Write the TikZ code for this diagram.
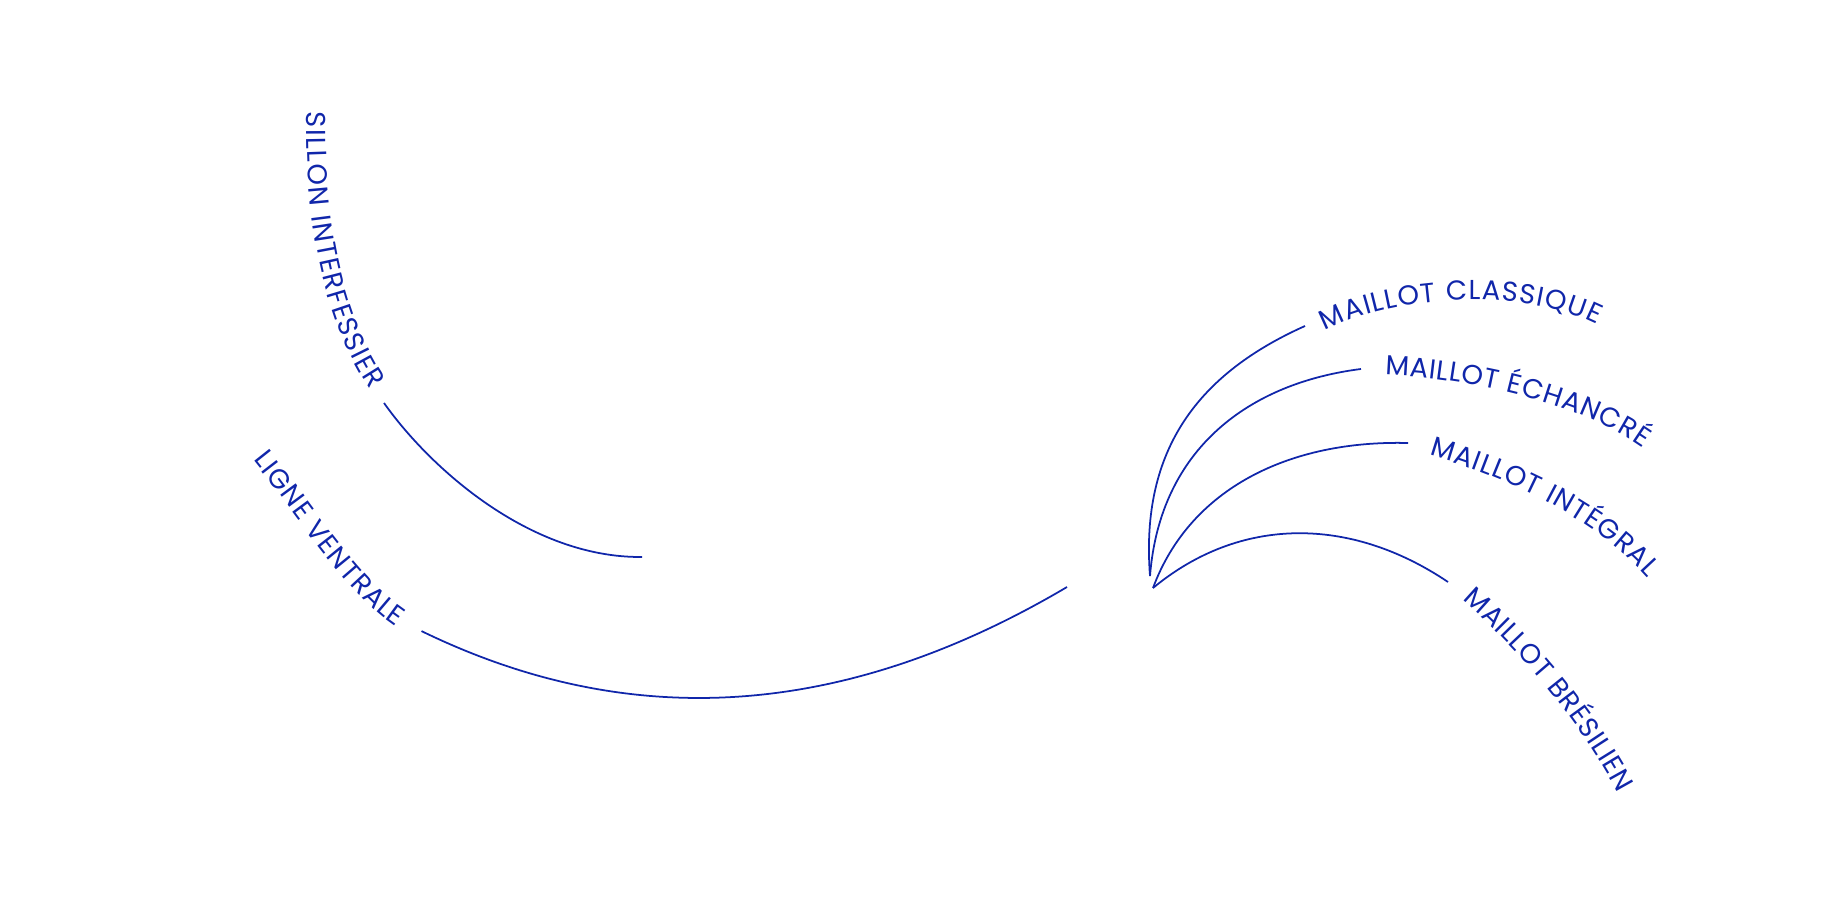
\documentclass[tikz,border=0pt]{standalone}
\usepackage{fontspec}
\setmainfont{Poppins}
\newfontfamily\cutfont{Poppins}
\usepackage{xcolor}
\usetikzlibrary{decorations.text}

\definecolor{swimblue}{RGB}{16,38,170}
\newcommand{\cutsize}{\fontsize{7.8}{9}\selectfont\cutfont}

\tikzset{
    cutline/.style={draw=swimblue, line width=0.5pt},
    cutlabel/.style={decorate, decoration={text along path, text align={fit to path}, text color=swimblue}}
}

\begin{document}
\begin{tikzpicture}
        \useasboundingbox (0,0) rectangle (18.36,9.18);
        % Back lines
        \coordinate (sillon) at (3.84,5.15);
        \coordinate (sillon-end) at (6.42,3.61);
        \coordinate (ventre) at (4.215,2.869);
        \coordinate (ventre-end) at (10.67,3.31);
        \draw[cutline] (sillon) .. controls (4.3,4.5) and (5.3,3.6) .. (sillon-end);
        \draw[cutline] (ventre) .. controls (5.9,2.05) and (8.05,1.76) .. (ventre-end);
        \path[cutlabel, decoration={text={|\cutsize|SILLON INTERFESSIER}}]
            (3.07,8.06) .. controls (3.05,7.0) and (3.22,6.0) .. (3.70,5.28);
        \path[cutlabel, decoration={text={|\cutsize|LIGNE VENTRALE}}]
            (2.53,4.58) .. controls (2.95,4.06) and (3.45,3.25) .. (3.965,2.91);
        % Leg openings
        \coordinate (hanche) at (11.50,3.42);
        \coordinate (hanche-bas) at (11.53,3.30);
        \coordinate (classique) at (13.05,5.92);
        \coordinate (echancre) at (13.61,5.49);
        \coordinate (integral) at (14.08,4.75);
        \coordinate (bresilien) at (14.48,3.36);
        \draw[cutline] (hanche) .. controls (11.40,4.7) and (12.0,5.45) .. (classique);
        \draw[cutline] (hanche) .. controls (11.6,4.7) and (12.5,5.35) .. (echancre);
        \draw[cutline] (hanche-bas) .. controls (11.9,4.3) and (12.9,4.78) .. (integral);
        \draw[cutline] (hanche-bas) .. controls (12.4,4.02) and (13.5,4.02) .. (bresilien);
        % Labels
        \path[cutlabel, decoration={text={|\cutsize|MAILLOT CLASSIQUE}}]
            (13.25,5.87) .. controls (13.9,6.22) and (15.2,6.32) .. (15.97,5.93);
        \path[cutlabel, decoration={text={|\cutsize|MAILLOT ÉCHANCRÉ}}]
            (13.85,5.43) .. controls (14.7,5.40) and (15.8,5.15) .. (16.43,4.70);
        \path[cutlabel, decoration={text={|\cutsize|MAILLOT INTÉGRAL}}]
            (14.29,4.63) .. controls (15.0,4.42) and (15.9,4.05) .. (16.48,3.40);
        \path[cutlabel, decoration={text={|\cutsize|MAILLOT BRÉSILIEN}}]
            (14.62,3.18) .. controls (15.15,2.72) and (15.75,2.05) .. (16.18,1.25);
\end{tikzpicture}
\end{document}
